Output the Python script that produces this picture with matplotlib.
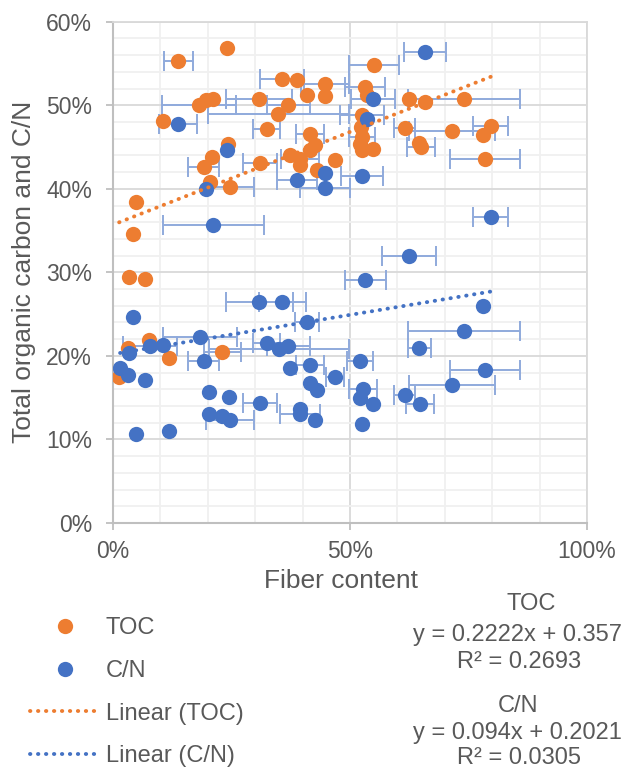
import numpy as np
import matplotlib
matplotlib.use("Agg")
import matplotlib.pyplot as plt
from matplotlib.lines import Line2D
from matplotlib.ticker import MultipleLocator, PercentFormatter

# ==================== DATA ====================

# TOC series: fiber content, horizontal error (0 = no bar), total organic carbon
toc_fiber = [0.240, 0.138, 0.551, 0.357, 0.388, 0.447, 0.532, 0.410, 0.447, 0.535,
             0.308, 0.212, 0.196, 0.625, 0.658, 0.741, 0.182, 0.370, 0.349, 0.525,
             0.105, 0.324, 0.615, 0.715, 0.797, 0.781, 0.523, 0.416, 0.525, 0.243,
             0.426, 0.521, 0.646, 0.650, 0.416, 0.525, 0.549, 0.373, 0.395, 0.208,
             0.785, 0.468, 0.310, 0.395, 0.191, 0.430, 0.205, 0.247, 0.049, 0.042,
             0.034, 0.068, 0.077, 0.032, 0.119, 0.231, 0.013]
toc_err = [0.000, 0.031, 0.053, 0.046, 0.000, 0.050, 0.042, 0.000, 0.000, 0.000,
           0.070, 0.000, 0.000, 0.000, 0.000, 0.118, 0.078, 0.046, 0.148, 0.046,
           0.000, 0.028, 0.023, 0.090, 0.037, 0.000, 0.000, 0.029, 0.027, 0.000,
           0.000, 0.000, 0.000, 0.030, 0.000, 0.000, 0.000, 0.000, 0.040, 0.000,
           0.074, 0.000, 0.035, 0.000, 0.032, 0.000, 0.000, 0.050, 0.000, 0.000,
           0.000, 0.000, 0.000, 0.000, 0.000, 0.040, 0.000]
toc_value = [0.568, 0.553, 0.548, 0.532, 0.530, 0.526, 0.522, 0.512, 0.511, 0.512,
             0.508, 0.507, 0.506, 0.508, 0.504, 0.507, 0.500, 0.500, 0.490, 0.488,
             0.481, 0.472, 0.473, 0.469, 0.475, 0.464, 0.474, 0.465, 0.462, 0.454,
             0.452, 0.454, 0.455, 0.450, 0.446, 0.446, 0.448, 0.440, 0.436, 0.438,
             0.436, 0.434, 0.431, 0.428, 0.426, 0.423, 0.408, 0.402, 0.384, 0.346,
             0.294, 0.292, 0.219, 0.209, 0.198, 0.205, 0.175]

# C/N series
cn_fiber = [0.658, 0.549, 0.138, 0.536, 0.240, 0.525, 0.388, 0.447, 0.447, 0.196,
            0.797, 0.212, 0.625, 0.532, 0.309, 0.357, 0.781, 0.410, 0.042, 0.741,
            0.184, 0.106, 0.078, 0.034, 0.324, 0.350, 0.370, 0.646, 0.521, 0.191,
            0.015, 0.032, 0.068, 0.373, 0.416, 0.468, 0.416, 0.430, 0.785, 0.715,
            0.527, 0.521, 0.548, 0.615, 0.648, 0.203, 0.245, 0.310, 0.203, 0.231,
            0.247, 0.395, 0.395, 0.426, 0.526, 0.049, 0.119]
cn_err = [0.044, 0.046, 0.040, 0.000, 0.000, 0.044, 0.042, 0.000, 0.053, 0.000,
          0.037, 0.107, 0.057, 0.043, 0.070, 0.050, 0.000, 0.025, 0.000, 0.118,
          0.078, 0.000, 0.057, 0.000, 0.028, 0.148, 0.046, 0.024, 0.028, 0.032,
          0.000, 0.000, 0.000, 0.000, 0.030, 0.019, 0.000, 0.000, 0.074, 0.090,
          0.030, 0.000, 0.000, 0.023, 0.030, 0.000, 0.000, 0.035, 0.000, 0.000,
          0.050, 0.000, 0.042, 0.000, 0.000, 0.000, 0.000]
cn_value = [0.564, 0.508, 0.478, 0.484, 0.446, 0.415, 0.410, 0.419, 0.401, 0.400,
            0.366, 0.357, 0.320, 0.291, 0.265, 0.265, 0.260, 0.240, 0.247, 0.230,
            0.223, 0.213, 0.212, 0.203, 0.215, 0.208, 0.212, 0.209, 0.194, 0.194,
            0.185, 0.177, 0.171, 0.186, 0.189, 0.175, 0.168, 0.159, 0.183, 0.165,
            0.160, 0.150, 0.142, 0.153, 0.143, 0.157, 0.151, 0.144, 0.131, 0.128,
            0.123, 0.137, 0.131, 0.123, 0.119, 0.106, 0.110]

# Linear trendlines as printed on the chart (slope, intercept, R²)
toc_fit = (0.2222, 0.357, 0.2693)
cn_fit = (0.094, 0.2021, 0.0305)

# ==================== STYLE ====================

ORANGE = '#ED7D31'
BLUE = '#4472C4'
ERR_COLOR = '#8FAADC'
TEXT = '#595959'
DOTS = (0, (0.1, 1.95))   # Excel "round dot"
MS = 11

plt.rcParams['font.family'] = ['Liberation Sans', 'DejaVu Sans']

W, H = 625, 769
fig = plt.figure(figsize=(W / 100, H / 100), dpi=100)

# plot area in pixels: left 113, right 587, top 21.7, bottom 523
ax = fig.add_axes([113 / W, 1 - 523 / H, (587 - 113) / W, (523 - 21.7) / H])


def plot_series(fiber, err, value, color):
    fiber = np.array(fiber)
    err = np.array(err)
    value = np.array(value)
    has_err = err > 0
    ax.errorbar(fiber[has_err], value[has_err], xerr=err[has_err], fmt='none',
                ecolor=ERR_COLOR, elinewidth=1.4, capsize=7, capthick=1.4, zorder=2)
    ax.plot(fiber, value, 'o', color=color, markersize=MS, markeredgewidth=0, zorder=3)


def plot_trend(fiber, fit, color):
    slope, intercept, _ = fit
    xs = np.array([min(fiber), max(fiber)])
    ax.plot(xs, slope * xs + intercept, color=color, linewidth=2.8,
            linestyle=DOTS, dash_capstyle='round', zorder=4)


plot_series(toc_fiber, toc_err, toc_value, ORANGE)
plot_series(cn_fiber, cn_err, cn_value, BLUE)
plot_trend(toc_fiber, toc_fit, ORANGE)
plot_trend(cn_fiber, cn_fit, BLUE)

# ==================== AXES ====================

ax.set_xlim(0, 1)
ax.set_ylim(0, 0.6)
ax.xaxis.set_major_locator(MultipleLocator(0.5))
ax.xaxis.set_minor_locator(MultipleLocator(0.1))
ax.yaxis.set_major_locator(MultipleLocator(0.1))
ax.yaxis.set_minor_locator(MultipleLocator(0.02))
ax.xaxis.set_major_formatter(PercentFormatter(1, decimals=0))
ax.yaxis.set_major_formatter(PercentFormatter(1, decimals=0))

ax.grid(which='major', color='#D9D9D9', linewidth=1.3, zorder=0)
ax.grid(which='minor', color='#F0F0F0', linewidth=1.3, zorder=0)
ax.set_axisbelow(True)

for side in ['left', 'bottom']:
    ax.spines[side].set_color('#BFBFBF')
    ax.spines[side].set_linewidth(1.5)
for side in ['top', 'right']:
    ax.spines[side].set_color('#D9D9D9')
    ax.spines[side].set_linewidth(1.3)

ax.tick_params(which='major', length=5, width=1.3, color='#BFBFBF',
               labelsize=16.5, labelcolor=TEXT)
ax.tick_params(axis='y', pad=10)
ax.tick_params(axis='x', pad=7)
ax.tick_params(which='minor', length=0)

ax.set_xlabel('Fiber content', fontsize=19, color=TEXT)
ax.set_ylabel('Total organic carbon and C/N', fontsize=19, color=TEXT)
ax.xaxis.set_label_coords(0.481, -0.091)
ax.yaxis.set_label_coords(-0.162, 0.5)

# ==================== LEGEND ====================

handles = [
    Line2D([], [], marker='o', linestyle='none', color=ORANGE, markersize=MS, markeredgewidth=0),
    Line2D([], [], marker='o', linestyle='none', color=BLUE, markersize=MS, markeredgewidth=0),
    Line2D([], [], color=ORANGE, linewidth=2.8, linestyle=DOTS, dash_capstyle='round'),
    Line2D([], [], color=BLUE, linewidth=2.8, linestyle=DOTS, dash_capstyle='round'),
]
labels = ['TOC', 'C/N', 'Linear (TOC)', 'Linear (C/N)']
leg = fig.legend(handles, labels, loc='upper left', bbox_to_anchor=(30 / W, 1 - 617 / H),
                 frameon=False, fontsize=17, handlelength=2.95, handletextpad=0.25,
                 labelspacing=0.88, borderpad=0, borderaxespad=0)
for t in leg.get_texts():
    t.set_color(TEXT)

# trendline equations
eq_lines = [
    ('TOC', 531, 609.5),
    ('y = %.4fx + %.3f' % (toc_fit[0], toc_fit[1]), 517.5, 640.5),
    ('R² = %.4f' % toc_fit[2], 519, 668.5),
    ('C/N', 518, 711.5),
    ('y = %.3fx + %.4f' % (cn_fit[0], cn_fit[1]), 517.5, 739),
    ('R² = %.4f' % cn_fit[2], 519, 764.5),
]
for text, x, y in eq_lines:
    fig.text(x / W, 1 - y / H, text, ha='center', va='baseline', fontsize=17, color=TEXT)

fig.savefig('out.png', dpi=100)
